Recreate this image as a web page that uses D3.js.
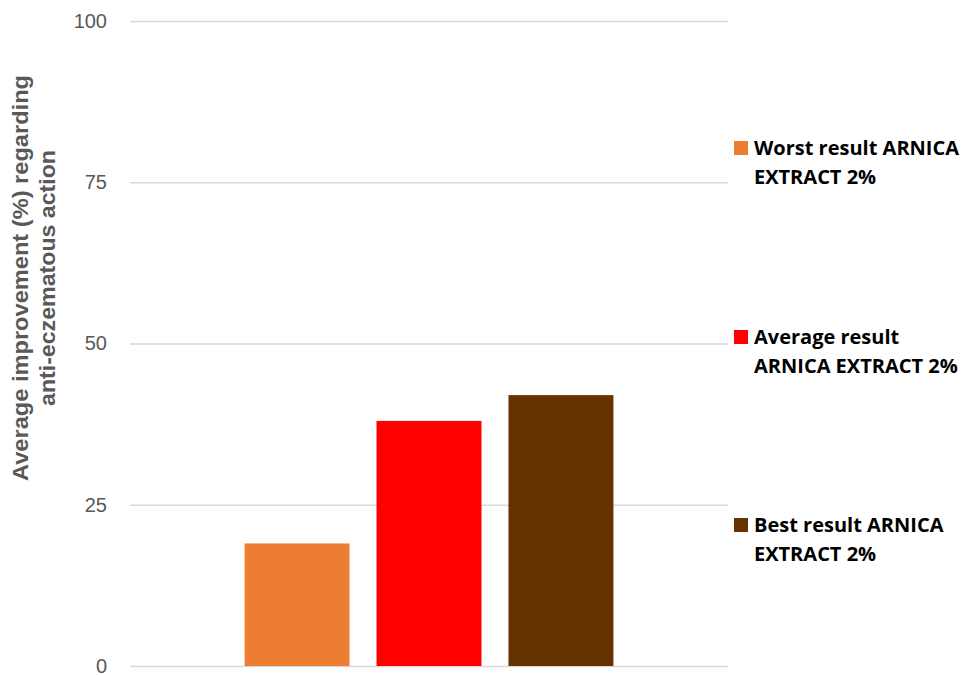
<!DOCTYPE html>
<html lang="en">
<head>
  <meta charset="UTF-8" />
  <title>Arnica extract 2%</title>
  <script src="https://d3js.org/d3.v7.min.js"></script>
  <style>
    body { margin: 0; background: #fff; }
    .tick text { fill: #595959; font-family: "Liberation Sans", Arial, sans-serif; font-size: 20px; }
    .legend text { font-family: "Open Sans", "Liberation Sans", sans-serif; font-weight: bold; font-size: 20px; fill: #000; }
    .ytitle { font-family: "Liberation Sans", Arial, sans-serif; font-weight: 700; font-size: 22px; fill: #595959; }
  </style>
</head>
<body>
  <svg width="961" height="675"></svg>
  <script>
    // values
    const category = ["ARNICA EXTRACT 2%"];
    const series = ["Worst result ARNICA EXTRACT 2%", "Average result ARNICA EXTRACT 2%", "Best result ARNICA EXTRACT 2%"];
    const values = [19, 38, 42];
    const colors = ["#ed7d31", "#ff0000", "#663300"];
    const legendLines = [["Worst result ARNICA", "EXTRACT 2%"], ["Average result", "ARNICA EXTRACT 2%"], ["Best result ARNICA", "EXTRACT 2%"]];
    const yTicks = [0, 25, 50, 75, 100];
    const yTitle = ["Average improvement (%) regarding", "anti-eczematous action"];

    const svg = d3.select("svg");
    const plotL = 130, plotR = 728, plotT = 21, plotB = 666;

    const y = d3.scaleLinear().domain([0, 100]).range([plotB, plotT]);
    const x0 = d3.scaleBand().domain(category).range([plotL, plotR]).padding(0.237);
    const x1 = d3.scaleBand().domain(series).range([0, x0.bandwidth()]).paddingInner(0.2045);

    // gridlines + tick labels
    const axis = svg.append("g")
      .attr("transform", `translate(${plotL},0)`)
      .call(d3.axisLeft(y).tickValues(yTicks).tickSize(-(plotR - plotL)).tickPadding(23));
    axis.select(".domain").remove();
    axis.selectAll(".tick line").attr("stroke", "#d9d9d9").attr("stroke-width", 1.5);

    // bars
    svg.append("g")
      .attr("transform", `translate(${x0(category[0])},0)`)
      .selectAll("rect")
      .data(values)
      .join("rect")
      .attr("x", (d, i) => x1(series[i]))
      .attr("width", x1.bandwidth())
      .attr("y", d => y(d))
      .attr("height", d => y(0) - y(d))
      .attr("fill", (d, i) => colors[i]);

    // y axis title, two lines
    const titleLen = [406, 256];
    const title = svg.append("text")
      .attr("class", "ytitle")
      .attr("transform", `translate(28,278) rotate(-90)`)
      .attr("text-anchor", "middle");
    yTitle.forEach((t, i) => title.append("tspan")
      .attr("x", 0).attr("y", i * 27)
      .attr("textLength", titleLen[i]).attr("lengthAdjust", "spacingAndGlyphs")
      .text(t));

    // legend
    const legendY = [155, 344, 532];
    const legend = svg.append("g").attr("class", "legend");
    series.forEach((s, i) => {
      const g = legend.append("g").attr("transform", `translate(734,${legendY[i]})`);
      g.append("rect").attr("x", 0).attr("y", -14).attr("width", 14).attr("height", 14).attr("fill", colors[i]);
      const t = g.append("text");
      legendLines[i].forEach((l, j) => t.append("tspan").attr("x", 20).attr("y", j * 29).text(l));
    });
  </script>
</body>
</html>
